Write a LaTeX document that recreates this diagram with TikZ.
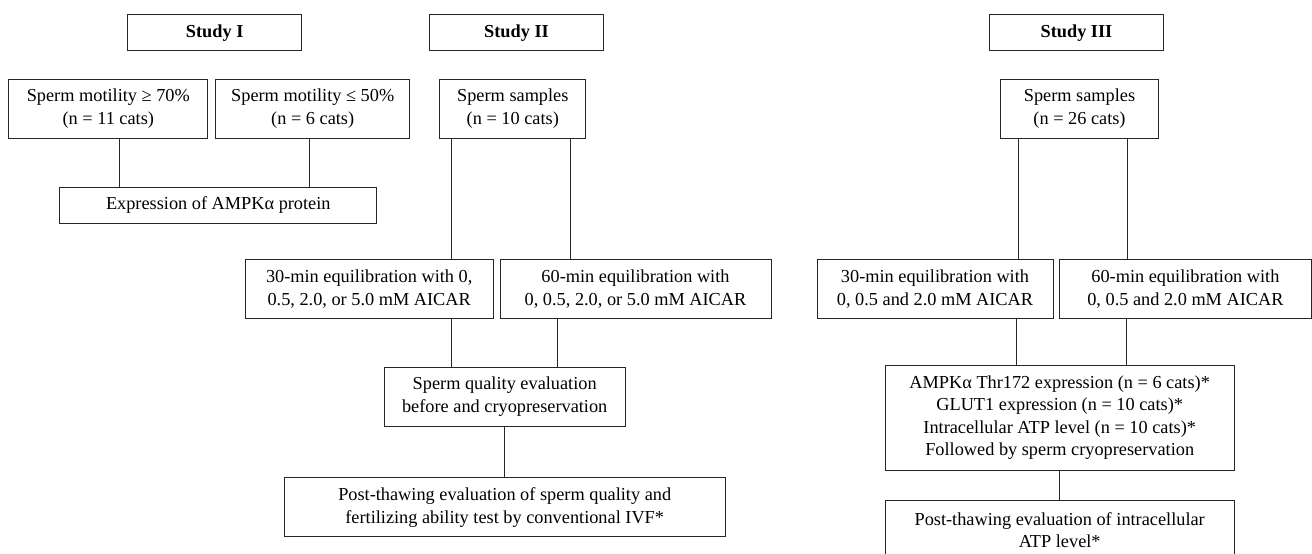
\documentclass[tikz,border=0pt]{standalone}
\usepackage{fontspec}
\setmainfont{Liberation Serif}
\tikzset{
	main node/.style={rectangle,draw=black!85,line width=1pt,align=center,inner sep=0pt,
		font=\fontsize{18.3}{22.5}\selectfont},
	study node/.style={main node,font=\fontsize{18.3}{22.5}\selectfont\bfseries}
}

\begin{document}
\begin{tikzpicture}[x=1pt,y=-1pt,line width=1pt,draw=black!85]
	\useasboundingbox (0,0) rectangle (1312,554);
	% study headers
	\node [study node,minimum width=174,minimum height=36.3] (study1) at (214.7,32.8) {Study I};
	\node [study node,minimum width=174.4,minimum height=36.3] (study2) at (516.5,32.8) {Study II};
	\node [study node,minimum width=174.4,minimum height=36.3] (study3) at (1076.5,32.8) {Study III};
	% study I
	\node [main node,minimum width=199.3,minimum height=58.7] (mot70) at (108.3,108.7) {Sperm motility ≥ 70\%\\(n = 11 cats)};
	\node [main node,minimum width=194,minimum height=58.7] (mot50) at (312.7,108.7) {Sperm motility ≤ 50\%\\(n = 6 cats)};
	\node [main node,minimum width=317.3,minimum height=36] (expr) at (218.3,205) {Expression of AMPKα protein};
	% study II
	\node [main node,minimum width=146.3,minimum height=58.7] (samp2) at (512.8,108.7) {Sperm samples\\(n = 10 cats)};
	\node [main node,minimum width=248.3,minimum height=58.7] (eq30a) at (369.2,289.3) {30-min equilibration with 0,\\0.5, 2.0, or 5.0 mM AICAR};
	\node [main node,minimum width=271,minimum height=58.7] (eq60a) at (635.5,289.3) {60-min equilibration with\\0, 0.5, 2.0, or 5.0 mM AICAR};
	\node [main node,minimum width=241.3,minimum height=59] (qual) at (504.7,396.8) {Sperm quality evaluation\\before and cryopreservation};
	\node [main node,minimum width=440.7,minimum height=58.7] (post2) at (504.7,507.3) {Post-thawing evaluation of sperm quality and\\fertilizing ability test by conventional IVF*};
	% study III
	\node [main node,minimum width=158.4,minimum height=58.7] (samp3) at (1079.5,108.7) {Sperm samples\\(n = 26 cats)};
	\node [main node,minimum width=236,minimum height=58.7] (eq30b) at (935,289.3) {30-min equilibration with\\0, 0.5 and 2.0 mM AICAR};
	\node [main node,minimum width=252.2,minimum height=58.7] (eq60b) at (1185.4,289.3) {60-min equilibration with\\0, 0.5 and 2.0 mM AICAR};
	\node [main node,minimum width=348.7,minimum height=105] (ampk) at (1059.7,417.5) {AMPKα Thr172 expression (n = 6 cats)*\\GLUT1 expression (n = 10 cats)*\\Intracellular ATP level (n = 10 cats)*\\Followed by sperm cryopreservation};
	\node [main node,minimum width=348.7,minimum height=60] (post3) at (1059.7,530) {Post-thawing evaluation of intracellular\\ATP level*};

	% connectors
	\draw (mot70.south -| 119,0) -- (expr.north -| 119,0);
	\draw (mot50.south -| 309.3,0) -- (expr.north -| 309.3,0);
	\draw (samp2.south -| 451,0) -- (eq30a.north -| 451,0);
	\draw (samp2.south -| 570,0) -- (eq60a.north -| 570,0);
	\draw (eq30a.south -| 451,0) -- (qual.north -| 451,0);
	\draw (eq60a.south -| 557.3,0) -- (qual.north -| 557.3,0);
	\draw (qual.south) -- (post2.north);
	\draw (samp3.south -| 1018,0) -- (eq30b.north -| 1018,0);
	\draw (samp3.south -| 1127.3,0) -- (eq60b.north -| 1127.3,0);
	\draw (eq30b.south -| 1016.3,0) -- (ampk.north -| 1016.3,0);
	\draw (eq60b.south -| 1126.3,0) -- (ampk.north -| 1126.3,0);
	\draw (ampk.south) -- (post3.north);
\end{tikzpicture}
\end{document}
